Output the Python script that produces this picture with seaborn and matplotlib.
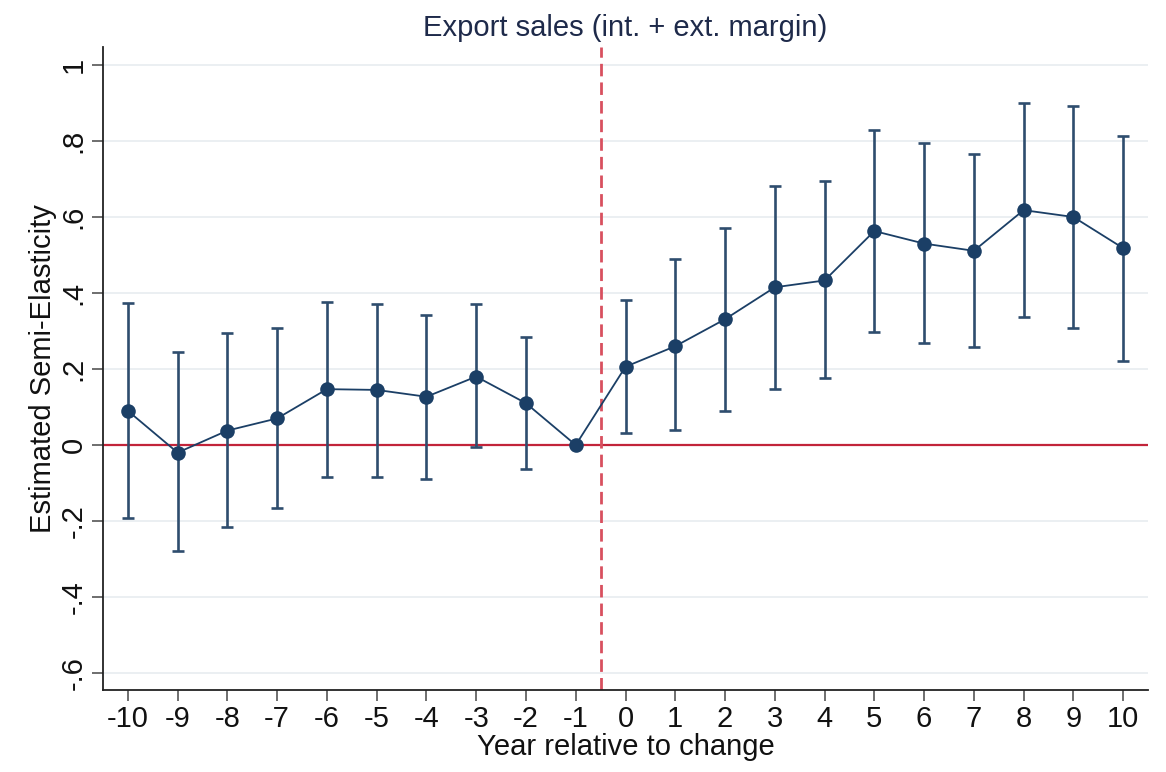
import matplotlib
matplotlib.use("Agg")
import matplotlib.pyplot as plt
import seaborn as sns
import pandas as pd

# Event-study estimates: year relative to change, point estimate, 95% CI bounds
years = [-10, -9, -8, -7, -6, -5, -4, -3, -2, -1, 0, 1, 2, 3, 4, 5, 6, 7, 8, 9, 10]
estimate = [0.09, -0.02, 0.038, 0.07, 0.147, 0.145, 0.127, 0.18, 0.11, 0.0,
            0.206, 0.26, 0.331, 0.415, 0.433, 0.563, 0.53, 0.511, 0.618, 0.60, 0.518]
ci_low = [-0.191, -0.278, -0.215, -0.167, -0.083, -0.083, -0.089, -0.004, -0.064, 0.0,
          0.031, 0.039, 0.089, 0.147, 0.176, 0.298, 0.269, 0.259, 0.336, 0.309, 0.222]
ci_high = [0.374, 0.245, 0.294, 0.307, 0.377, 0.37, 0.342, 0.37, 0.285, 0.0,
           0.382, 0.489, 0.57, 0.682, 0.695, 0.829, 0.794, 0.766, 0.90, 0.892, 0.814]
y_ticks = [-0.6, -0.4, -0.2, 0, 0.2, 0.4, 0.6, 0.8, 1.0]
y_tick_labels = ["-.6", "-.4", "-.2", "0", ".2", ".4", ".6", ".8", "1"]

df = pd.DataFrame({"year": years, "est": estimate, "lo": ci_low, "hi": ci_high})

sns.set_theme(style="white")
plt.rcParams["font.family"] = ["Liberation Sans", "DejaVu Sans"]

navy = "#1b3f66"
bar_col = "#2e4d6e"

fig = plt.figure(figsize=(11.66, 7.72), dpi=100)
ax = fig.add_axes([0.0883, 0.106, 0.8963, 0.833])

# horizontal gridlines at each y tick
for t in y_ticks:
    ax.axhline(t, color="#e9eef1", lw=1.3, zorder=0)

# confidence intervals (skip the omitted reference year)
ci = df[df["hi"] != df["lo"]]
ax.errorbar(ci["year"], ci["est"],
            yerr=[ci["est"] - ci["lo"], ci["hi"] - ci["est"]],
            fmt="none", ecolor=bar_col, elinewidth=1.9, capsize=4.5, capthick=1.9,
            zorder=2)

# reference lines
ax.axhline(0, color="#c2243a", lw=1.6, zorder=1)
ax.axvline(-0.5, color="#d8505f", lw=2.0, ls=(0, (4.5, 2.2)), zorder=1)

# point estimates joined by a line
sns.lineplot(data=df, x="year", y="est", ax=ax, color=navy, lw=1.3,
             marker="o", markersize=10.5, markeredgewidth=0, zorder=3)

ax.set_xlim(-10.5, 10.5)
ax.set_ylim(-0.645, 1.047)
ax.set_xticks(years)
ax.set_xticklabels([str(y) for y in years])
ax.set_yticks(y_ticks)
ax.set_yticklabels(y_tick_labels, rotation=90, va="center")

ax.tick_params(axis="both", which="major", direction="out", length=8, width=1.2,
               color="#555555", labelsize=21, labelcolor="#111111", bottom=True, left=True)
ax.tick_params(axis="x", pad=3)
ax.tick_params(axis="y", pad=3)

for side in ["top", "right"]:
    ax.spines[side].set_visible(False)
for side in ["left", "bottom"]:
    ax.spines[side].set_color("#222222")
    ax.spines[side].set_linewidth(1.3)

ax.set_xlabel("Year relative to change", fontsize=21, color="#111111", labelpad=0)
ax.set_ylabel("Estimated Semi-Elasticity", fontsize=21, color="#111111", labelpad=2)
ax.set_title("Export sales (int. + ext. margin)", fontsize=21, color="#1e2a4a", pad=8)

fig.savefig("out.png", dpi=100, facecolor="white")
